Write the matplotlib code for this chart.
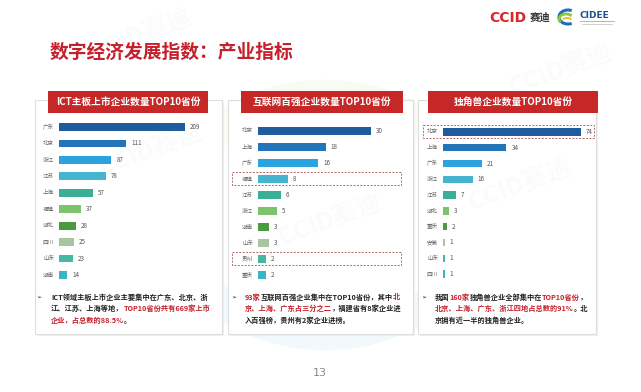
import matplotlib
matplotlib.use("Agg")
import matplotlib.pyplot as plt
from matplotlib.patches import Rectangle, Arc

plt.rcParams['font.family'] = ['Noto Sans CJK SC', 'DejaVu Sans']
FAM = ['Noto Sans CJK SC', 'DejaVu Sans']

# ---------------- data ----------------
title = "数字经济发展指数：产业指标"

ict_title = "ICT主板上市企业数量TOP10省份"
ict_cats = ["广东", "北京", "浙江", "江苏", "上海", "福建", "湖北", "四川", "山东", "湖南"]
ict_vals = [209, 111, 87, 78, 57, 37, 28, 25, 23, 14]

net_title = "互联网百强企业数量TOP10省份"
net_cats = ["北京", "上海", "广东", "福建", "江苏", "浙江", "湖南", "山东", "贵州", "重庆"]
net_vals = [30, 18, 16, 8, 6, 5, 3, 3, 2, 2]

uni_title = "独角兽企业数量TOP10省份"
uni_cats = ["北京", "上海", "广东", "浙江", "江苏", "湖北", "重庆", "安徽", "山东", "四川"]
uni_vals = [74, 34, 21, 16, 7, 3, 2, 1, 1, 1]

bar_colors = ["#1f5c9e", "#2474ba", "#2ca3dd", "#45b5cf", "#3aae97",
              "#7dc36b", "#4a9a3f", "#a9c59d", "#45b8a2", "#3bb3c9"]

RED = "#c5202b"
DARK = "#222222"
ict_text = [
    [("ICT领域主板上市企业主要集中在广东、北京、浙", DARK)],
    [("江、江苏、上海等地，", DARK), ("TOP10省份共有669家上市", RED)],
    [("企业，占总数的88.5%", RED), ("。", DARK)],
]
net_text = [
    [("93家", RED), ("互联网百强企业集中在TOP10省份，其中", DARK), ("北", RED)],
    [("京、上海、广东占三分之二", RED), ("，福建省有8家企业进", DARK)],
    [("入百强榜，贵州有2家企业进榜。", DARK)],
]
uni_text = [
    [("我国", DARK), ("160家", RED), ("独角兽企业全部集中在", DARK), ("TOP10省份", RED), ("，", DARK)],
    [("北京、上海、广东、浙江四地占总数的91%", RED), ("。北", DARK)],
    [("京拥有近一半的独角兽企业。", DARK)],
]
page_no = "13"

# ---------------- figure ----------------
W, H = 641, 392
fig = plt.figure(figsize=(W / 100, H / 100), dpi=100)
fig.patch.set_facecolor("white")
bg = fig.add_axes([0, 0, 1, 1])
bg.set_xlim(0, W)
bg.set_ylim(H, 0)
bg.axis("off")
renderer = fig.canvas.get_renderer()


def fbox(x0, y0, x1, y1):
    return [x0 / W, 1 - y1 / H, (x1 - x0) / W, (y1 - y0) / H]


def text_width(s, **kw):
    if not s:
        return 0.0
    t = bg.text(0, 0, s, **kw)
    w = t.get_window_extent(renderer=renderer).width
    t.remove()
    return w


# faint watermark swoosh
for (r, t1, t2, col) in [(150, 200, 330, "#8cc63f"), (140, 330, 360, "#f2c12e"),
                         (150, 20, 150, "#29a3dd")]:
    bg.add_patch(Arc((325, 215), 2 * r, 2 * r * 0.8, theta1=t1, theta2=t2,
                     lw=22, color=col, alpha=0.06, zorder=0))

# title
bg.text(50, 52, title, color=RED, fontsize=13.5, fontweight="bold",
        va="center", ha="left", family=FAM)

# logos
bg.text(489, 18, "CCID", color="#d7262e", fontsize=10, fontweight="bold",
        va="center", ha="left", family=["DejaVu Sans"])
bg.text(530, 18, "赛迪", color="#333333", fontsize=7.5, fontweight="bold",
        va="center", ha="left", family=FAM)
bg.add_patch(Arc((568, 17), 18, 14, theta1=60, theta2=300, lw=2.2, color="#1e6fb8", zorder=3))
bg.add_patch(Arc((566, 19), 14, 10, theta1=150, theta2=330, lw=2.0, color="#8cc63f", zorder=3))
bg.add_patch(Arc((567, 21), 10, 6, theta1=200, theta2=340, lw=1.5, color="#f2c12e", zorder=3))
bg.text(580, 15, "CIDEE", color="#1e4f8f", fontsize=6.5, fontweight="bold",
        va="center", ha="left", family=["DejaVu Sans"])
bg.plot([580, 614], [21, 21], color="#999999", lw=0.5)
bg.plot([582, 612], [23.5, 23.5], color="#bbbbbb", lw=0.5)

# panel frames + headers
panels = [
    dict(frame=(35, 100, 222, 334), head=(48, 91, 208, 113), name=ict_title,
         cats=ict_cats, vals=ict_vals, bar=(59, 185), rows=(127, 275),
         text=ict_text, tx=51, bx=39),
    dict(frame=(228, 100, 413, 334), head=(241, 91, 403, 113), name=net_title,
         cats=net_cats, vals=net_vals, bar=(258, 371), rows=(131, 275),
         text=net_text, tx=245, bx=234),
    dict(frame=(418, 100, 596, 334), head=(428, 91, 598, 113), name=uni_title,
         cats=uni_cats, vals=uni_vals, bar=(443, 581), rows=(132, 274),
         text=uni_text, tx=435, bx=424),
]

TXT_KW = dict(fontsize=5.2, fontweight="bold", ha="left", va="center", family=FAM)

for p in panels:
    x0, y0, x1, y1 = p["frame"]
    bg.add_patch(Rectangle((x0 + 1.5, y0 + 1.5), x1 - x0, y1 - y0, facecolor="#f0f0f0",
                           edgecolor="none", zorder=1))
    bg.add_patch(Rectangle((x0, y0), x1 - x0, y1 - y0, facecolor="white",
                           edgecolor="#dedede", lw=0.8, zorder=1.5))
    hx0, hy0, hx1, hy1 = p["head"]
    bg.add_patch(Rectangle((hx0, hy0), hx1 - hx0, hy1 - hy0, facecolor="#c62828",
                           edgecolor="none", zorder=2))
    bg.text((hx0 + hx1) / 2, (hy0 + hy1) / 2, p["name"], color="white", fontsize=7,
            fontweight="bold", ha="center", va="center", family=FAM, zorder=3)

    # bar axes
    bx0, bx1 = p["bar"]
    r0, r1 = p["rows"]
    n = len(p["vals"])
    step = (r1 - r0) / (n - 1)
    ax = fig.add_axes(fbox(bx0, r0 - step / 2, bx1, r1 + step / 2))
    ax.set_xlim(0, max(p["vals"]))
    ax.set_ylim(n - 0.5, -0.5)
    ax.axis("off")
    ax.patch.set_alpha(0)
    ax.barh(range(n), p["vals"], height=0.47, color=bar_colors[:n], zorder=3)
    for i, (c, v) in enumerate(zip(p["cats"], p["vals"])):
        ax.annotate(c, xy=(0, i), xytext=(-16, 0), textcoords="offset pixels",
                    ha="left", va="center", fontsize=4, color="#666666",
                    family=FAM, annotation_clip=False)
        ax.annotate(str(v), xy=(v, i), xytext=(5, 0), textcoords="offset pixels",
                    ha="left", va="center", fontsize=4.5, color="#555555",
                    family=FAM, annotation_clip=False)

    # bullet text (segments placed by cumulative prefix width)
    for li, segs in enumerate(p["text"]):
        y = 297 + li * 11.5
        prefix = ""
        for s, col in segs:
            x = p["tx"] + text_width(prefix, **TXT_KW)
            bg.text(x, y, s, color=col, zorder=4, **TXT_KW)
            prefix += s
    bg.text(p["bx"], 297, "➢", color="#333333", fontsize=4.5, ha="center",
            va="center", family=["DejaVu Sans"], zorder=4)

# dashed highlight boxes
for (x0, y0, x1, y1) in [(232, 172, 401, 185), (232, 252, 401, 265), (423, 125, 594, 138)]:
    bg.add_patch(Rectangle((x0, y0), x1 - x0, y1 - y0, facecolor="none",
                           edgecolor="#b26a6a", lw=0.7, ls=(0, (2, 1.5)), zorder=5))

# faint watermark texts
for (x, y) in [(150, 150), (330, 220), (520, 185), (140, 35), (560, 70)]:
    bg.text(x, y, "CCID赛迪", color="#999999", alpha=0.045, fontsize=18,
            fontweight="bold", rotation=20, ha="center", va="center", family=FAM, zorder=6)

bg.text(320, 373, page_no, color="#888888", fontsize=8, ha="center", va="center",
        family=["DejaVu Sans"])

fig.savefig("out.png", dpi=100, facecolor="white")
